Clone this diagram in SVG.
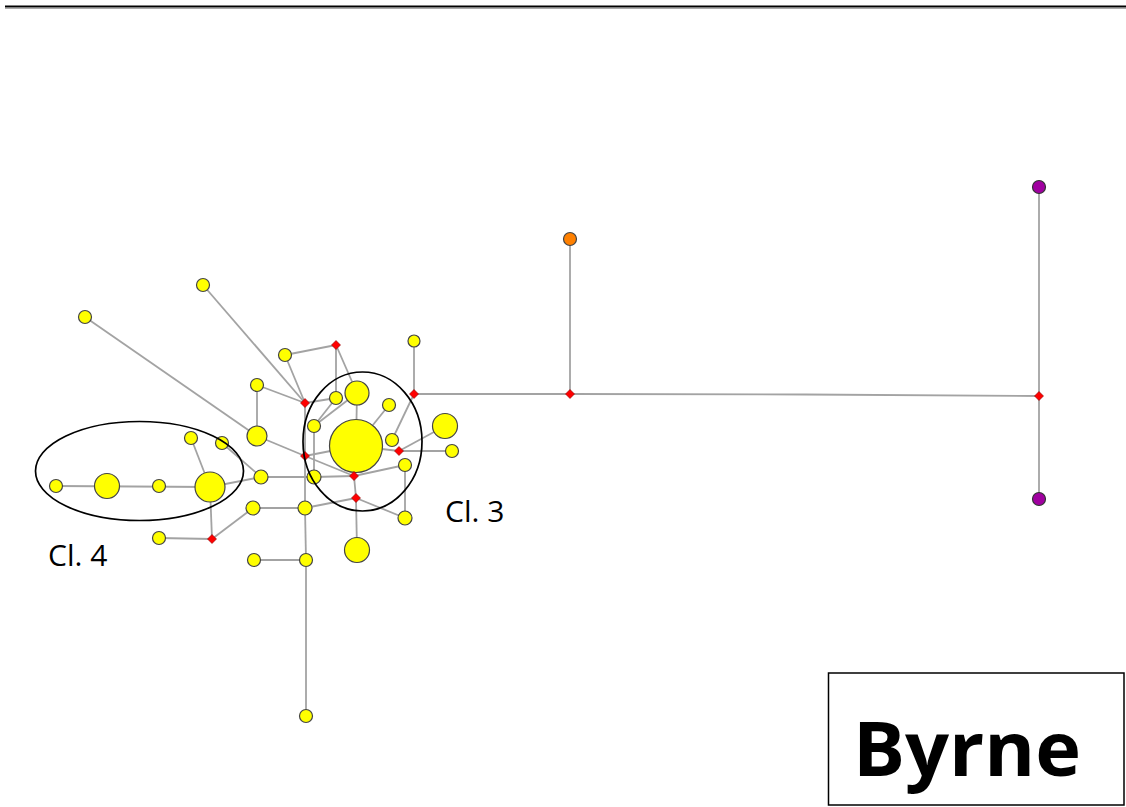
<svg xmlns="http://www.w3.org/2000/svg" width="1126" height="807" viewBox="0 0 1126 807">
<style>
.e{stroke:#a3a3a3;stroke-width:1.8;fill:none}
.y{fill:#ffff00;stroke:#444;stroke-width:1.2}
.r{fill:#ff0000;stroke:#8b0000;stroke-width:0.6}
.o{fill:#ff8000;stroke:#444;stroke-width:1.2}
.p{fill:#a000a0;stroke:#333;stroke-width:1.2}
.cl{fill:none;stroke:#000;stroke-width:1.7}
.lb{font-family:'Open Sans','Liberation Sans',sans-serif;font-size:30px;fill:#000}
</style>
<defs>
<polygon id="dm" points="0,-4.5 4.5,0 0,4.5 -4.5,0" class="r"/>
</defs>
<rect width="1126" height="807" fill="#fff"/>
<line x1="5" y1="6.5" x2="1126" y2="6.5" stroke="#000" stroke-width="2.2"/>
<line x1="5" y1="8.5" x2="1126" y2="8.5" stroke="#aaa" stroke-width="1"/>
<g id="connectors" class="e">
<line x1="414" y1="341" x2="414" y2="394"/>
<line x1="414" y1="394" x2="570" y2="394"/>
<polyline points="570,394 805,394.5 1039,396"/>
<line x1="570" y1="394" x2="570" y2="239"/>
<line x1="1039" y1="396" x2="1039" y2="187"/>
<line x1="1039" y1="396" x2="1039" y2="499"/>
<line x1="414" y1="394" x2="392" y2="440"/>
<line x1="389" y1="405" x2="356" y2="446"/>
<line x1="357" y1="393" x2="356" y2="446"/>
<line x1="336" y1="345" x2="285" y2="355"/>
<line x1="336" y1="345" x2="336" y2="398"/>
<line x1="336" y1="345" x2="357" y2="393"/>
<line x1="285" y1="355" x2="305" y2="403"/>
<line x1="257" y1="385" x2="305" y2="403"/>
<line x1="203" y1="285" x2="305" y2="403"/>
<line x1="85" y1="317" x2="257" y2="436"/>
<line x1="257" y1="385" x2="257" y2="436"/>
<line x1="305" y1="403" x2="336" y2="398"/>
<line x1="314" y1="426" x2="336" y2="398"/>
<line x1="314" y1="426" x2="357" y2="393"/>
<line x1="314" y1="426" x2="314" y2="477"/>
<line x1="257" y1="436" x2="305" y2="456"/>
<line x1="305" y1="403" x2="305" y2="456"/>
<line x1="305" y1="456" x2="356" y2="446"/>
<line x1="305" y1="456" x2="354" y2="476"/>
<line x1="314" y1="477" x2="354" y2="476"/>
<line x1="354" y1="476" x2="356" y2="446"/>
<line x1="354" y1="476" x2="405" y2="465"/>
<line x1="354" y1="476" x2="356" y2="498"/>
<line x1="356" y1="498" x2="305" y2="508"/>
<line x1="356" y1="498" x2="405" y2="518"/>
<line x1="356" y1="498" x2="357" y2="550"/>
<line x1="405" y1="465" x2="405" y2="518"/>
<line x1="399" y1="451" x2="452" y2="451"/>
<line x1="399" y1="451" x2="445" y2="426"/>
<line x1="399" y1="451" x2="356" y2="446"/>
<line x1="56" y1="486" x2="210" y2="487"/>
<line x1="191" y1="438" x2="210" y2="487"/>
<line x1="222" y1="443" x2="261" y2="477"/>
<line x1="210" y1="487" x2="261" y2="477"/>
<line x1="210" y1="487" x2="212" y2="539"/>
<line x1="212" y1="539" x2="159" y2="538"/>
<line x1="212" y1="539" x2="253" y2="508"/>
<line x1="253" y1="508" x2="305" y2="508"/>
<line x1="261" y1="477" x2="314" y2="477"/>
<line x1="254" y1="560" x2="306" y2="560"/>
<line x1="305" y1="456" x2="305" y2="508"/>
<line x1="305" y1="508" x2="306" y2="560"/>
<line x1="306" y1="560" x2="306" y2="716"/>
</g>
<g id="nodes">
<g id="n_y1"><circle class="y" cx="414" cy="341" r="6"/></g>
<g id="n_y2"><circle class="y" cx="285" cy="355" r="6.5"/></g>
<g id="n_y3"><circle class="y" cx="257" cy="385" r="6.5"/></g>
<g id="n_y4"><circle class="y" cx="336" cy="398" r="6.5"/></g>
<g id="n_y5"><circle class="y" cx="357" cy="393" r="12"/></g>
<g id="n_y6"><circle class="y" cx="389" cy="405" r="6.5"/></g>
<g id="n_y7"><circle class="y" cx="314" cy="426" r="6.5"/></g>
<g id="n_y8"><circle class="y" cx="257" cy="436" r="10"/></g>
<g id="n_y9"><circle class="y" cx="356" cy="446" r="26.5"/></g>
<g id="n_y10"><circle class="y" cx="445" cy="426" r="12.5"/></g>
<g id="n_y11"><circle class="y" cx="392" cy="440" r="6.5"/></g>
<g id="n_y12"><circle class="y" cx="452" cy="451" r="6.5"/></g>
<g id="n_y13"><circle class="y" cx="405" cy="465" r="6.5"/></g>
<g id="n_y14"><circle class="y" cx="314" cy="477" r="7"/></g>
<g id="n_y15"><circle class="y" cx="261" cy="477" r="7"/></g>
<g id="n_y16"><circle class="y" cx="210" cy="487" r="15"/></g>
<g id="n_y17"><circle class="y" cx="305" cy="508" r="7"/></g>
<g id="n_y18"><circle class="y" cx="253" cy="508" r="7"/></g>
<g id="n_y19"><circle class="y" cx="405" cy="518" r="7"/></g>
<g id="n_y20"><circle class="y" cx="357" cy="550" r="12.5"/></g>
<g id="n_y21"><circle class="y" cx="254" cy="560" r="6.5"/></g>
<g id="n_y22"><circle class="y" cx="306" cy="560" r="6.5"/></g>
<g id="n_y23"><circle class="y" cx="191" cy="438" r="6.5"/></g>
<g id="n_y24"><circle class="y" cx="222" cy="443" r="6.5"/></g>
<g id="n_y25"><circle class="y" cx="203" cy="285" r="6.5"/></g>
<g id="n_y26"><circle class="y" cx="85" cy="317" r="6.5"/></g>
<g id="n_y27"><circle class="y" cx="56" cy="486" r="6.5"/></g>
<g id="n_y28"><circle class="y" cx="107" cy="486" r="12.5"/></g>
<g id="n_y29"><circle class="y" cx="159" cy="486" r="6.5"/></g>
<g id="n_y30"><circle class="y" cx="159" cy="538" r="6.5"/></g>
<g id="n_y31"><circle class="y" cx="306" cy="716" r="6.5"/></g>
<g id="n_orange"><circle class="o" cx="570" cy="239" r="6.5"/></g>
<g id="n_purple1"><circle class="p" cx="1039" cy="187" r="6.5"/></g>
<g id="n_purple2"><circle class="p" cx="1039" cy="499" r="6.5"/></g>
<g id="m_r1"><use href="#dm" x="336" y="345"/></g>
<g id="m_r2"><use href="#dm" x="305" y="403"/></g>
<g id="m_r3"><use href="#dm" x="414" y="394"/></g>
<g id="m_r4"><use href="#dm" x="399" y="451"/></g>
<g id="m_r5"><use href="#dm" x="305" y="456"/></g>
<g id="m_r6"><use href="#dm" x="354" y="476"/></g>
<g id="m_r7"><use href="#dm" x="356" y="498"/></g>
<g id="m_r8"><use href="#dm" x="212" y="539"/></g>
<g id="m_r9"><use href="#dm" x="570" y="394"/></g>
<g id="m_r10"><use href="#dm" x="1039" y="396"/></g>
</g>
<g id="cluster3">
<ellipse class="cl" cx="362.5" cy="441.5" rx="59.5" ry="69.5"/>
<text class="lb" x="445" y="522">Cl. 3</text>
</g>
<g id="cluster4">
<ellipse class="cl" cx="139.5" cy="471" rx="104" ry="49.5"/>
<text class="lb" x="48" y="566">Cl. 4</text>
</g>
<g id="title">
<rect x="828.5" y="673" width="295.5" height="132" fill="none" stroke="#000" stroke-width="1.5"/>
<text x="853" y="776" font-family="'Open Sans','Liberation Sans',sans-serif" font-weight="bold" font-size="76" textLength="228" lengthAdjust="spacingAndGlyphs">Byrne</text>
</g>
</svg>
